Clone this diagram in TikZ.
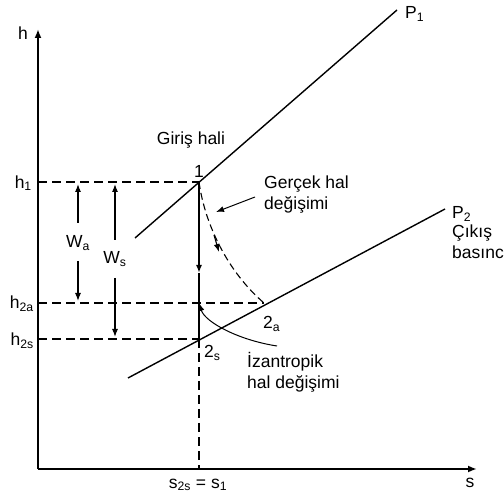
\documentclass[tikz,border=0pt]{standalone}
\usepackage{fontspec}
\setmainfont{Liberation Sans}
\usetikzlibrary{arrows.meta}
\begin{document}
\begin{tikzpicture}[x=1pt,y=-1pt,
  lbl/.style={inner sep=0pt,font=\fontsize{17.5}{21}\selectfont},
  axis/.style={line width=2.6pt},
  curve/.style={line width=1.4pt},
  hdash/.style={line width=2.1pt,dash pattern=on 9pt off 5pt},
  warrow/.style={line width=1.1pt,-{Latex[length=8pt,width=6pt]}},
  tip/.style={-{Latex[length=8pt,width=6pt]}}]
\useasboundingbox (0,0) rectangle (504,497);
% key points
\coordinate (O) at (38,469);
\coordinate (htop) at (38,29);
\coordinate (sright) at (477,469);
\coordinate (p1) at (199,182);
\coordinate (p2s) at (199,339);
\coordinate (p2a) at (264,303);
\coordinate (h1) at (38,182);
\coordinate (h2a) at (38,303);
\coordinate (h2s) at (38,339);
\coordinate (sbot) at (199,469);
\coordinate (P1a) at (135,238);
\coordinate (P1b) at (397,10);
\coordinate (P2a) at (128,378);
\coordinate (P2b) at (445,209);
\coordinate (midv) at (199,273);
\coordinate (mid2a) at (199,303);
% axes
\draw[axis,-{Latex[length=9pt,width=7pt]}] (O) -- (htop);
\draw[axis,-{Latex[length=9pt,width=7pt]}] (O) -- (sright);
% dashed levels
\draw[hdash] (h1) -- (p1);
\draw[hdash] (h2a) -- (p2a);
\draw[hdash] (h2s) -- (p2s);
\draw[hdash] (p2s) -- (sbot);
% pressure lines
\draw[curve] (P1a) -- (P1b);
\draw[curve] (P2a) -- (P2b);
% isentropic process
\draw[line width=1.9pt,tip] (p1) -- (midv);
\draw[line width=1.9pt] (midv) -- (p2s);
% actual process (dashed curve)
\draw[line width=1.1pt,dash pattern=on 7pt off 4pt] (p1) .. controls (205,225) and (228,272) .. (p2a);
\draw[line width=1.1pt,tip] (214,235) -- (219,252);
% leader for Gerçek
\coordinate (gstart) at (255,197);
\coordinate (gend) at (216,212);
\draw[line width=1pt,tip] (gstart) -- (gend);
% leader for izantropik
\coordinate (istart) at (277,346);
\draw[line width=1pt,tip] (istart) .. controls (238,340) and (205,322) .. (mid2a);
% W arrows
\coordinate (wa1) at (78,223); \coordinate (wa1e) at (78,184);
\coordinate (wa2) at (78,261); \coordinate (wa2e) at (78,301);
\coordinate (ws1) at (115,240); \coordinate (ws1e) at (115,184);
\coordinate (ws2) at (115,278); \coordinate (ws2e) at (115,337);
\draw[warrow] (wa1) -- (wa1e);
\draw[warrow] (wa2) -- (wa2e);
\draw[warrow] (ws1) -- (ws1e);
\draw[warrow] (ws2) -- (ws2e);
% labels
\node[lbl] (lh) at (23,33) {h};
\node[lbl] (ls) at (470,483) {s};
\node[lbl,anchor=east] (lh1) at (32,183) {h\textsubscript{1}};
\node[lbl,anchor=east] (lh2a) at (34,304) {h\textsubscript{2a}};
\node[lbl,anchor=east] (lh2s) at (34,341) {h\textsubscript{2s}};
\node[lbl] (ls2s) at (198,485) {s\textsubscript{2s} = s\textsubscript{1}};
\node[lbl] (l1) at (199,171) {1};
\node[lbl,anchor=west] (l2s) at (204,353) {2\textsubscript{s}};
\node[lbl,anchor=west] (l2a) at (263,324) {2\textsubscript{a}};
\node[lbl] (lgiris) at (191,140) {Giriş hali};
\node[lbl,anchor=west,align=left] (lgercek) at (264,195) {Gerçek hal\\değişimi};
\node[lbl,anchor=west,align=left] (lizan) at (247,372) {İzantropik\\hal değişimi};
\node[lbl,anchor=west] (lP1) at (405,14) {P\textsubscript{1}};
\node[lbl,anchor=west] (lP2) at (452,214) {P\textsubscript{2}};
\node[lbl,anchor=west,align=left] (lcikis) at (452,242) {Çıkış\\basıncı};
\node[lbl] (lWa) at (78,243) {W\textsubscript{a}};
\node[lbl] (lWs) at (115,259) {W\textsubscript{s}};
\end{tikzpicture}
\end{document}
